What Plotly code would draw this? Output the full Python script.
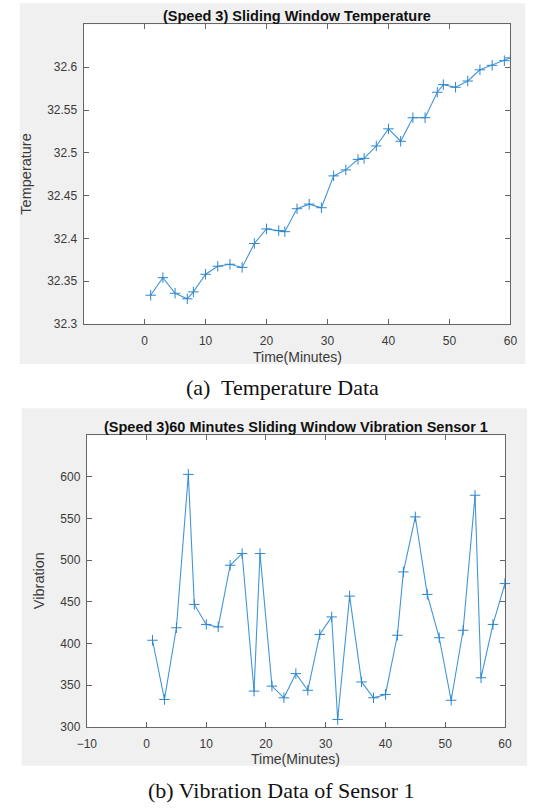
import plotly.graph_objects as go

# Canvas size in pixels
W, H = 540, 809

# ---- Data -------------------------------------------------------------
temp_minutes = [1, 3, 5, 7, 8, 10, 12, 14, 16, 18, 20, 22, 23, 25, 27, 29, 31,
                33, 35, 36, 38, 40, 42, 44, 46, 48, 49, 51, 53, 55, 57, 59, 60]
temp_values = [32.3335, 32.354, 32.3358, 32.3293, 32.3374, 32.358, 32.3674,
               32.3697, 32.366, 32.394, 32.411, 32.409, 32.4078, 32.4346,
               32.440, 32.4358, 32.473, 32.48, 32.4923, 32.4935, 32.508,
               32.528, 32.5135, 32.541, 32.541, 32.5708, 32.5797, 32.5766,
               32.5839, 32.597, 32.6023, 32.6077, 32.611]

vib_minutes = [1, 3, 5, 7, 8, 10, 12, 14, 16, 18, 19, 21, 23, 25, 27, 29, 31,
               32, 34, 36, 38, 40, 42, 43, 45, 47, 49, 51, 53, 55, 56, 58, 60]
vib_values = [404, 333, 419, 603, 447, 423, 420, 494, 508, 343, 508, 349, 335,
              364, 344, 411, 432, 309, 457, 354, 335, 339, 410, 486, 552, 459,
              407, 332, 416, 578, 359, 423, 472]

temp_xticks = [0, 10, 20, 30, 40, 50, 60]
temp_yticks = [32.3, 32.35, 32.4, 32.45, 32.5, 32.55, 32.6]
temp_yticktext = ["32.3", "32.35", "32.4", "32.45", "32.5", "32.55", "32.6"]
vib_xticks = [-10, 0, 10, 20, 30, 40, 50, 60]
vib_yticks = [300, 350, 400, 450, 500, 550, 600]

titles = ["(Speed 3) Sliding Window Temperature",
          "(Speed 3)60 Minutes Sliding Window Vibration Sensor 1"]
xlabel = "Time(Minutes)"
ylabels = ["Temperature", "Vibration"]
captions = ["(a)&nbsp; Temperature Data", "(b) Vibration Data of Sensor 1"]


# ---- Helpers: pixel -> paper coordinates ---------------------------------
def px(x):
    return x / W


def py(y):
    return 1 - y / H


LINE_C = "#4395d8"
MARK_C = "#2a86cf"
AXIS_C = "#666666"
TICK_FONT = dict(family="Liberation Sans, Arial, sans-serif", size=12, color="#3a3a3a")
SANS = "Liberation Sans, Arial, sans-serif"
SERIF = "Liberation Serif, Times New Roman, serif"

# axes boxes (left, top, right, bottom) in pixels
box_a = (76, 24.7, 516.7, 326.7)
box_b = (79.3, 439, 511, 733.3)
# grey figure panels
panel_a = (10, 3.3, 532, 367.3)
panel_b = (12, 411.7, 534, 772.5)

fig = go.Figure()

fig.add_trace(go.Scatter(
    x=temp_minutes, y=temp_values, mode="lines+markers",
    line=dict(color=LINE_C, width=1.1),
    marker=dict(symbol="cross-thin", size=7.5, line=dict(color=MARK_C, width=1)),
    xaxis="x", yaxis="y", showlegend=False, cliponaxis=True,
))
fig.add_trace(go.Scatter(
    x=vib_minutes, y=vib_values, mode="lines+markers",
    line=dict(color=LINE_C, width=1.1),
    marker=dict(symbol="cross-thin", size=7.5, line=dict(color=MARK_C, width=1)),
    xaxis="x2", yaxis="y2", showlegend=False, cliponaxis=False,
))

common_axis = dict(
    showline=True, linecolor=AXIS_C, linewidth=1, mirror="ticks",
    ticks="inside", ticklen=5, tickcolor=AXIS_C, tickwidth=1,
    showgrid=False, zeroline=False, tickfont=TICK_FONT, fixedrange=True,
)

fig.update_layout(
    width=W, height=H,
    margin=dict(l=0, r=0, t=0, b=0),
    paper_bgcolor="white", plot_bgcolor="white",
    xaxis=dict(domain=[px(box_a[0]), px(box_a[2])], range=[-10, 60],
               tickvals=temp_xticks, anchor="y", ticklabelstandoff=6, **common_axis),
    yaxis=dict(domain=[py(box_a[3]), py(box_a[1])], range=[32.3, 32.65],
               tickvals=temp_yticks, ticktext=temp_yticktext, anchor="x",
               ticklabelstandoff=3, **common_axis),
    xaxis2=dict(domain=[px(box_b[0]), px(box_b[2])], range=[-10, 60],
                tickvals=vib_xticks, anchor="y2", ticklabelstandoff=6, **common_axis),
    yaxis2=dict(domain=[py(box_b[3]), py(box_b[1])], range=[300, 650],
                tickvals=vib_yticks, anchor="x2", ticklabelstandoff=3, **common_axis),
)

# grey figure panels with white axes areas on top
shapes = []
for panel, box in ((panel_a, box_a), (panel_b, box_b)):
    shapes.append(dict(type="rect", xref="paper", yref="paper", layer="below",
                       x0=px(panel[0]), x1=px(panel[2]), y0=py(panel[3]), y1=py(panel[1]),
                       fillcolor="#f0f0f0", line=dict(width=0)))
    shapes.append(dict(type="rect", xref="paper", yref="paper", layer="below",
                       x0=px(box[0]), x1=px(box[2]), y0=py(box[3]), y1=py(box[1]),
                       fillcolor="white", line=dict(width=0)))
fig.update_layout(shapes=shapes)

annotations = []
# subplot titles
for title, box, ty in ((titles[0], box_a, 16), (titles[1], box_b, 430.5)):
    annotations.append(dict(text=f"<b>{title}</b>", xref="paper", yref="paper",
                            x=px((box[0] + box[2]) / 2), y=py(ty), xanchor="center",
                            yanchor="middle", showarrow=False,
                            font=dict(family=SANS, size=14.5, color="#111111")))
# x axis titles
for box, ty in ((box_a, 360), (box_b, 766)):
    annotations.append(dict(text=xlabel, xref="paper", yref="paper",
                            x=px((box[0] + box[2]) / 2), y=py(ty), xanchor="center",
                            yanchor="middle", showarrow=False,
                            font=dict(family=SANS, size=14, color="#3a3a3a")))
# y axis titles
for label, box, tx in ((ylabels[0], box_a, 17), (ylabels[1], box_b, 30)):
    annotations.append(dict(text=label, xref="paper", yref="paper",
                            x=px(tx), y=py((box[1] + box[3]) / 2), xanchor="center",
                            yanchor="middle", showarrow=False, textangle=-90,
                            font=dict(family=SANS, size=14.5, color="#3a3a3a")))
# figure captions
for cap, cx, cy in ((captions[0], 281, 391), (captions[1], 280, 797)):
    annotations.append(dict(text=cap, xref="paper", yref="paper",
                            x=px(cx), y=py(cy), xanchor="center", yanchor="middle",
                            showarrow=False,
                            font=dict(family=SERIF, size=22, color="#111111")))
fig.update_layout(annotations=annotations)

fig.write_html("out.html")
